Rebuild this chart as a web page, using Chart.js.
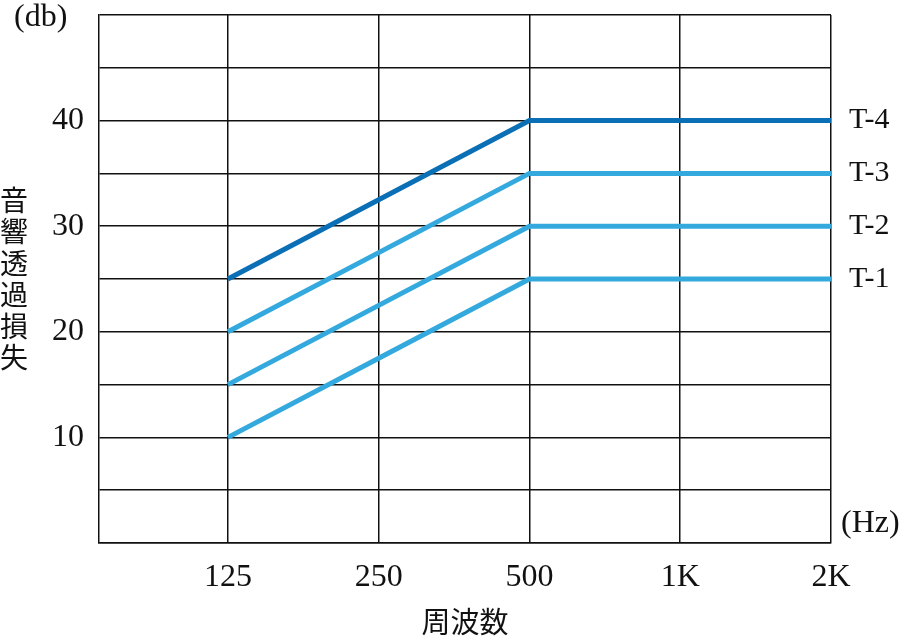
<!DOCTYPE html>
<html>
<head>
<meta charset="utf-8">
<script src="https://cdn.jsdelivr.net/npm/chart.js@4/dist/chart.umd.min.js"></script>
<style>
  html, body { margin: 0; padding: 0; background: #fff; }
  #wrap { width: 910px; height: 640px; }
</style>
</head>
<body>
<div id="wrap"><canvas id="chart"></canvas></div>
<script>
// データ
var freqLabels = ['125', '250', '500', '1K', '2K'];
var seriesNames = ['T-1', 'T-2', 'T-3', 'T-4'];
var t1 = [10, 17.5, 25, 25, 25];
var t2 = [15, 22.5, 30, 30, 30];
var t3 = [20, 27.5, 35, 35, 35];
var t4 = [25, 32.5, 40, 40, 40];
var yTickLabels = [10, 20, 30, 40];

var serif = '"Liberation Serif", "Noto Sans CJK JP", serif';
var cjk = '"Noto Sans CJK JP", "Liberation Serif", serif';
var light = '#34a9de';
var dark = '#0b6fb6';

function pts(arr) {
    return arr.map(function (v, i) { return { x: i + 1, y: v }; });
}

function ds(name, arr, color) {
    return {
        label: name,
        data: pts(arr),
        borderColor: color,
        borderWidth: 5,
        pointRadius: 0,
        fill: false,
        tension: 0
    };
}

// 外側の文字
var labelsPlugin = {
    id: 'labels',
    afterDraw: function (chart) {
        var ctx = chart.ctx;
        var y = chart.scales.y;
        var area = chart.chartArea;
        ctx.save();
        ctx.fillStyle = '#111';
        ctx.textBaseline = 'middle';

        ctx.font = '32px ' + serif;
        ctx.textAlign = 'left';
        ctx.fillText('(db)', 14, 18);
        ctx.fillText('(Hz)', 841, 524);

        ctx.font = '30px ' + serif;
        chart.data.datasets.forEach(function (d) {
            var last = d.data[d.data.length - 1].y;
            ctx.fillText(d.label, 849, y.getPixelForValue(last));
        });

        ctx.font = '28px ' + cjk;
        ctx.textAlign = 'center';
        var title = '音響透過損失';
        for (var i = 0; i < title.length; i++) {
            ctx.fillText(title[i], 14, 200 + i * 31.5);
        }
        ctx.font = '29px ' + cjk;
        ctx.fillText('周波数', (area.left + area.right) / 2, 622);
        ctx.restore();
    }
};

new Chart(document.getElementById('chart').getContext('2d'), {
    type: 'line',
    data: {
        datasets: [
            ds(seriesNames[3], t4, dark),
            ds(seriesNames[2], t3, light),
            ds(seriesNames[1], t2, light),
            ds(seriesNames[0], t1, light)
        ]
    },
    options: {
        responsive: true,
        maintainAspectRatio: false,
        animation: false,
        layout: { padding: { top: 15, right: 79, left: 0, bottom: 0 } },
        plugins: { legend: { display: false }, tooltip: { enabled: false } },
        scales: {
            x: {
                type: 'linear',
                min: 0.145,
                max: 5,
                afterBuildTicks: function (s) {
                    s.ticks = freqLabels.map(function (l, i) { return { value: i + 1 }; });
                },
                afterFit: function (s) {
                    s.height = 97;
                    s.paddingLeft = 0;
                    s.paddingRight = 0;
                },
                grid: { color: '#111', lineWidth: 1.5, drawTicks: false },
                border: { color: '#111', width: 1.5 },
                ticks: {
                    padding: 15,
                    color: '#111',
                    font: { family: serif, size: 32 },
                    maxRotation: 0,
                    callback: function (v) { return freqLabels[v - 1] || ''; }
                }
            },
            y: {
                min: 0,
                max: 50,
                afterFit: function (s) {
                    s.width = 99;
                    s.paddingTop = 0;
                    s.paddingBottom = 0;
                },
                grid: { color: '#111', lineWidth: 1.5, drawTicks: false },
                border: { color: '#111', width: 1.5 },
                ticks: {
                    stepSize: 5,
                    padding: 15,
                    color: '#111',
                    font: { family: serif, size: 32 },
                    callback: function (v) { return yTickLabels.indexOf(v) >= 0 ? String(v) : ''; }
                }
            }
        }
    },
    plugins: [labelsPlugin]
});
</script>
</body>
</html>
